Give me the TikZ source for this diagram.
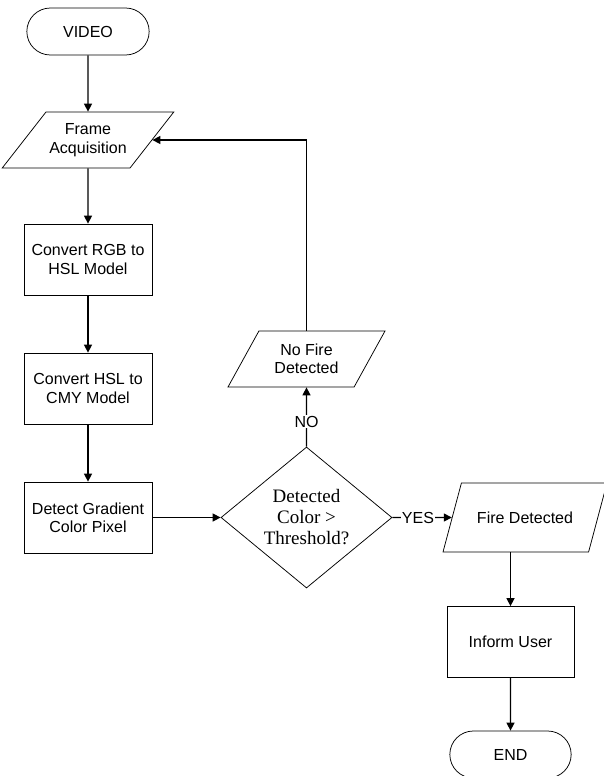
\documentclass[tikz,border=0pt]{standalone}
\usepackage{fontspec}
\setmainfont{Liberation Sans}
\newfontfamily\diamfont{Liberation Serif}
\usetikzlibrary{arrows.meta,positioning,shapes.geometric,shapes.misc}

\begin{document}
\begin{tikzpicture}[x=1pt,y=1pt,yscale=-1,xscale=1,
  every node/.style={font=\fontsize{16}{18.4}\selectfont},
  term/.style={draw, line width=0.75pt, rounded rectangle, minimum width=129pt, minimum height=47pt},
  proc/.style={draw, line width=0.75pt, rectangle, minimum width=128pt, minimum height=71pt, align=center},
  io/.style={draw, line width=0.75pt, trapezium, trapezium stretches body, align=center},
  decision/.style={draw, line width=0.75pt, diamond, shape aspect=1.21, inner sep=0pt, minimum width=171pt, minimum height=141pt, align=center, font=\diamfont\fontsize{19}{21}\selectfont},
  arr/.style={line width=1.4pt, -{Triangle[length=8pt,width=8pt]}},
  lbl/.style={fill=white, inner sep=1pt}]
\useasboundingbox (0,0) rectangle (603,776);
\fill [white] (0,0) rectangle (603,776);

%Shape: Terminal
\node [term] (video) at (88,31.5) {VIDEO};
%Shape: Parallelogram
\node [io, trapezium left angle=42, trapezium right angle=138, minimum width=159pt, minimum height=56pt] (frame) at (88,140) {Frame\\Acquisition};
%Shape: Rectangle
\node [proc] (rgb) at (88,259.5) {Convert RGB to\\HSL Model};
%Shape: Rectangle
\node [proc] (hsl) at (88,388.5) {Convert HSL to\\CMY Model};
%Shape: Rectangle
\node [proc] (grad) at (88,517.5) {Detect Gradient\\Color Pixel};
%Shape: Diamond
\node [decision] (thr) at (306.5,517.5) {Detected\\Color >\\Threshold?};
%Shape: Parallelogram
\node [io, trapezium left angle=50, trapezium right angle=130, minimum width=157pt, minimum height=56pt] (nofire) at (306.5,359) {No Fire\\Detected};
%Shape: Parallelogram
\node [io, trapezium left angle=45, trapezium right angle=135, minimum width=164pt, minimum height=69pt] (fire) at (525,517.5) {Fire Detected};
%Shape: Rectangle
\node [proc, minimum width=127pt] (inform) at (510.5,642) {Inform User};
%Shape: Terminal
\node [term, minimum width=128pt] (end) at (510.5,754.5) {END};

%Straight Lines
\draw [arr] (video) -- (frame);
\draw [arr] (frame) -- (rgb);
\draw [arr] (rgb) -- (hsl);
\draw [arr] (hsl) -- (grad);
\draw [arr] (grad) -- (thr);
\draw [arr] (thr) -- node [lbl, pos=0.42] {NO} (nofire);
\draw [arr] (nofire.north) |- (frame.east);
\draw [arr] (thr) -- node [lbl, pos=0.43] {YES} (fire);
\draw [arr] (fire.south -| inform.north) -- (inform);
\draw [arr] (inform) -- (end);

\end{tikzpicture}
\end{document}
